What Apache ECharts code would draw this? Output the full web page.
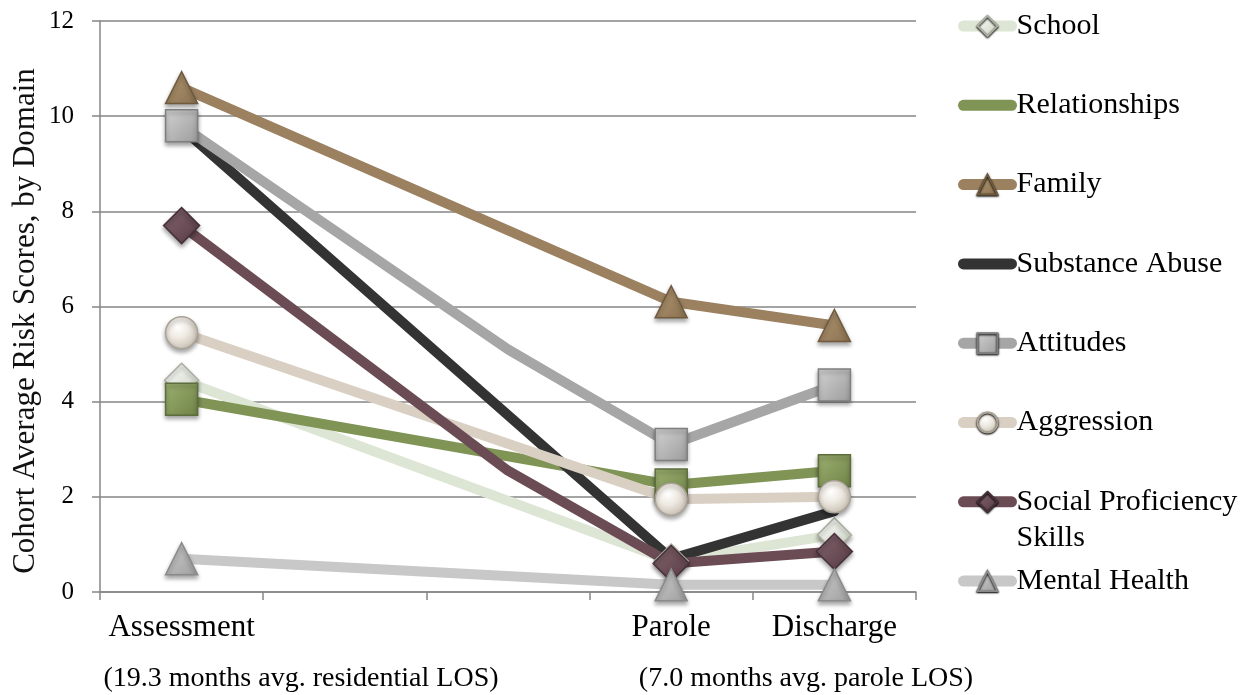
<!DOCTYPE html>
<html>
<head>
<meta charset="utf-8">
<script src="https://cdn.jsdelivr.net/npm/echarts@6/dist/echarts.min.js"></script>
<style>
  html, body { margin: 0; padding: 0; background: #fff; }
  #chart { width: 1250px; height: 695px; }
</style>
</head>
<body>
<div id="chart"></div>
<script>
// Time points (the two unnamed slots keep the spacing of the time line)
const categories = ['Assessment', '', '', 'Parole', 'Discharge'];
const markedPoints = [0, 3, 4];
const yTicks = { min: 0, max: 12, step: 2 };

// Cohort average risk scores per domain
const school        = [4.45, null, null, 0.65, 1.2];
const relationships = [4.05, null, null, 2.25, 2.55];
const family        = [10.6, null, null, 6.1, 5.6];
const substance     = [9.75, null, null, 0.7, 1.7];
const attitudes     = [9.8, null, 5.1, 3.1, 4.35];
const aggression    = [5.45, null, null, 1.95, 2.0];
const socialSkills  = [7.7, null, 2.55, 0.6, 0.85];
const mentalHealth  = [0.7, null, null, 0.15, 0.15];

const periodNotes = ['(19.3 months avg. residential LOS)', '(7.0 months avg. parole LOS)'];

const FONT = "'Liberation Serif', 'Times New Roman', serif";

function grad(light, dark) {
  return new echarts.graphic.LinearGradient(0, 0, 1, 1, [
    { offset: 0, color: light }, { offset: 1, color: dark }
  ]);
}
function ball(light, dark) {
  return new echarts.graphic.RadialGradient(0.4, 0.35, 0.7, [
    { offset: 0, color: '#ffffff' }, { offset: 0.45, color: light }, { offset: 1, color: dark }
  ]);
}

const domains = [
  { name: 'School', data: school, line: '#dde5d4', symbol: 'diamond', size: 34,
    fill: grad('#ffffff', '#c9d0bf'), border: '#a9ae9f', legendMark: true },
  { name: 'Relationships', data: relationships, line: '#7f9455', symbol: 'rect', size: 32,
    fill: grad('#9cb070', '#6f8348'), border: '#5c6d3b', legendMark: false },
  { name: 'Family', data: family, line: '#9b8160', symbol: 'triangle', size: 32,
    fill: grad('#b49a74', '#8a7050'), border: '#6f5a3e', legendMark: true },
  { name: 'Substance Abuse', data: substance, line: '#333333', symbol: 'none', size: 0,
    fill: '#333333', border: '#333333', legendMark: false },
  { name: 'Attitudes', data: attitudes, line: '#a6a6a6', symbol: 'rect', size: 32,
    fill: grad('#d2d2d2', '#9c9c9c'), border: '#7f7f7f', legendMark: true },
  { name: 'Aggression', data: aggression, line: '#d9cfc3', symbol: 'circle', size: 32,
    fill: ball('#eee9e1', '#c4bcb0'), border: '#aaa296', legendMark: true },
  { name: 'Social Proficiency Skills', data: socialSkills, line: '#6b4c55', symbol: 'diamond', size: 36,
    fill: grad('#856670', '#563a42'), border: '#46303a', legendMark: true },
  { name: 'Mental Health', data: mentalHealth, line: '#c8c8c8', symbol: 'triangle', size: 32,
    fill: grad('#cfcfcf', '#9e9e9e'), border: '#8a8a8a', legendMark: true }
];

const series = domains.map(d => ({
  name: d.name,
  type: 'line',
  data: d.data,
  connectNulls: true,
  symbol: d.symbol,
  // markers only at the three named time points
  symbolSize: (v, p) => (markedPoints.indexOf(p.dataIndex) >= 0 ? d.size : 0),
  showSymbol: d.symbol !== 'none',
  lineStyle: { color: d.line, width: 10, cap: 'round', join: 'round' },
  itemStyle: {
    color: d.fill, borderColor: d.border, borderWidth: 1.5,
    shadowColor: 'rgba(0,0,0,0.35)', shadowBlur: 4, shadowOffsetY: 3
  },
  emphasis: { disabled: true },
  animation: false
}));

// One legend block per domain, stacked down the right side
const legendTop0 = 26, legendStep = 79.3, legendLH = 30;
const legends = domains.map((d, i) => {
  const cy = legendTop0 + i * legendStep;
  const twoLine = d.name === 'Social Proficiency Skills';
  const lh = twoLine ? 36 : legendLH;
  const boxH = twoLine ? lh * 3 : lh;
  return {
    data: [d.name],
    orient: 'vertical',
    left: 958,
    top: cy - boxH / 2,
    padding: 0,
    itemWidth: 48,
    itemHeight: 25,
    selectedMode: false,
    // leading blank line keeps the first text line level with the symbol
    formatter: n => (n === 'Social Proficiency Skills' ? ' \nSocial Proficiency\nSkills' : n),
    textStyle: { fontFamily: FONT, fontSize: 30, color: '#000', lineHeight: lh },
    lineStyle: { width: 11, cap: 'round' },
    itemStyle: d.legendMark ? { shadowBlur: 2, shadowOffsetY: 1 } : { opacity: 0 }
  };
});

const option = {
  backgroundColor: '#ffffff',
  animation: false,
  grid: { left: 100, right: 334, top: 21, bottom: 103 },
  legend: legends,
  xAxis: {
    type: 'category',
    data: categories,
    boundaryGap: true,
    axisLine: { lineStyle: { color: '#868686', width: 1.5 } },
    axisTick: { show: true, length: 8, lineStyle: { color: '#868686', width: 1.5 } },
    axisLabel: { interval: 0, margin: 20, fontFamily: FONT, fontSize: 31, color: '#000' }
  },
  yAxis: {
    type: 'value',
    min: yTicks.min, max: yTicks.max, interval: yTicks.step,
    axisLine: { show: true, lineStyle: { color: '#868686', width: 1.5 } },
    axisTick: { show: true, length: 8, lineStyle: { color: '#868686', width: 1.5 } },
    splitLine: { lineStyle: { color: '#868686', width: 1.5 } },
    axisLabel: { margin: 26, fontFamily: FONT, fontSize: 25, color: '#000' }
  },
  graphic: [
    {
      type: 'text', x: 26, y: 321, rotation: Math.PI / 2,
      style: {
        text: 'Cohort Average Risk Scores, by Domain', fontFamily: FONT, fontSize: 31,
        fill: '#111', align: 'center', verticalAlign: 'middle'
      }
    },
    {
      type: 'text', x: 301, y: 679,
      style: { text: periodNotes[0], fontFamily: FONT, fontSize: 28, fill: '#000',
        align: 'center', verticalAlign: 'middle' }
    },
    {
      type: 'text', x: 806, y: 679,
      style: { text: periodNotes[1], fontFamily: FONT, fontSize: 28, fill: '#000',
        align: 'center', verticalAlign: 'middle' }
    }
  ],
  series: series
};

const chart = echarts.init(document.getElementById('chart'), null, { renderer: 'canvas' });
chart.setOption(option);
</script>
</body>
</html>
